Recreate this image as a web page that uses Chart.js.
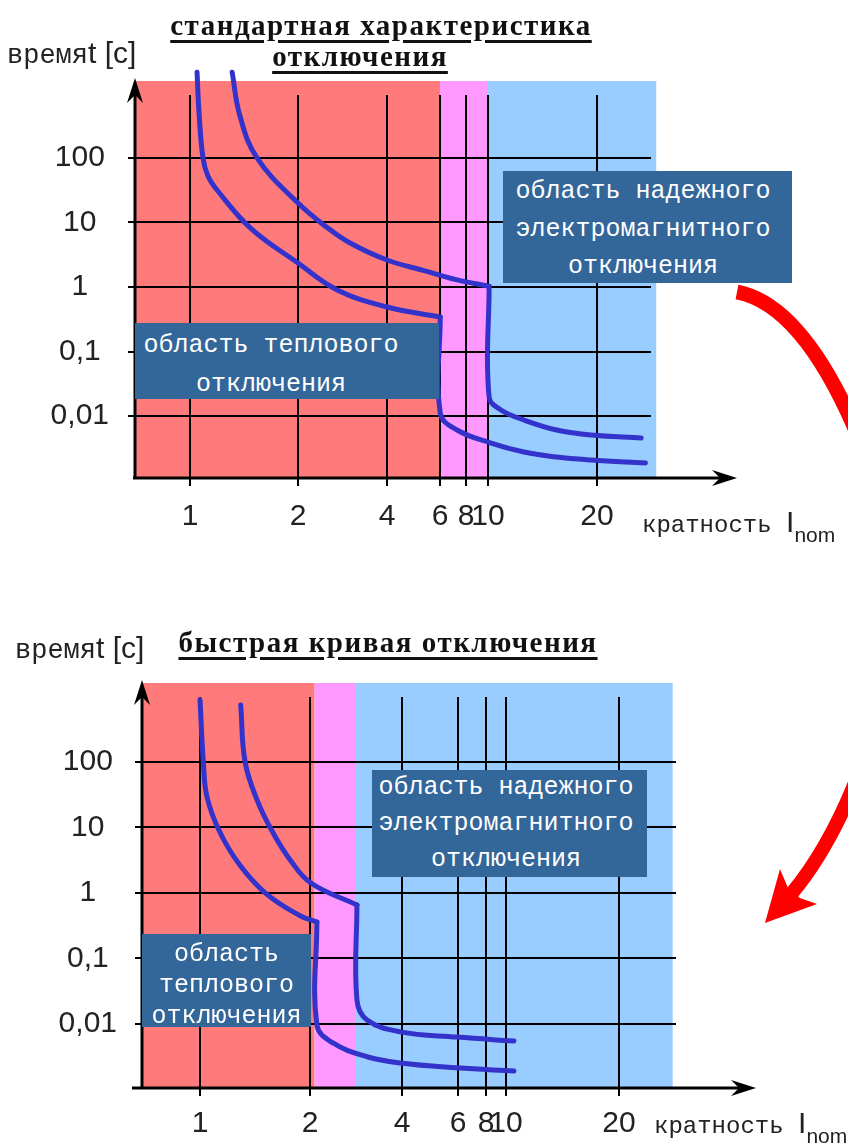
<!DOCTYPE html>
<html lang="ru">
<head>
<meta charset="UTF-8">
<title>Характеристики отключения</title>
<script src="https://cdn.jsdelivr.net/npm/chart.js@4.4.1/dist/chart.umd.min.js"></script>
<style>
  body { margin: 0; background: #fff; }
  #page { position: relative; width: 848px; height: 1148px; overflow: hidden; background: #fff; }
  canvas { position: absolute; left: 0; }
  #c1 { top: 0; }
  #c2 { top: 580px; }
  .title {
    position: absolute; transform: translateX(-50%);
    font-family: 'Liberation Serif', serif; font-weight: bold; font-size: 29px;
    letter-spacing: 1.5px; line-height: 30px; white-space: nowrap; color: #111;
    text-decoration: underline; text-decoration-thickness: 3px; text-underline-offset: 5px;
  }
  .lab { position: absolute; white-space: nowrap; color: #222; line-height: 34px; }
  .mono { font-family: 'Liberation Mono', monospace; font-size: 27px; }
  .mono2 { font-family: 'Liberation Mono', monospace; font-size: 24px; }
  .sans { font-family: 'Liberation Sans', sans-serif; font-size: 30px; }
  .sub { font-family: 'Liberation Sans', sans-serif; font-size: 21px; position: relative; top: 10px; }
  .box {
    position: absolute; box-sizing: border-box; background: #336699; color: #fff;
    font-family: 'Liberation Mono', monospace; font-size: 25px; text-align: center; white-space: nowrap;
  }
</style>
</head>
<body>
<div id="page">
  <canvas id="c1" width="848" height="580"></canvas>
  <canvas id="c2" width="848" height="568"></canvas>

  <div class="title" style="left:381px; top:10px;">стандартная характеристика</div>
  <div class="title" style="left:360px; top:41px;">отключения</div>
  <div class="lab" style="left:7px; top:36px;"><span class="mono">время</span><span class="sans">t [c]</span></div>
  <div class="lab" style="left:642px; top:505px;"><span class="mono2">кратность </span><span class="sans">I</span><span class="sub">nom</span></div>
  <div class="box" style="left:135px; top:323px; width:304px; height:76px; padding:3px 32px 0 0; line-height:39px;">область теплового<br>отключения</div>
  <div class="box" style="left:503px; top:171px; width:289px; height:112px; padding:2px 9px 0 0; line-height:37.5px;">область надежного<br>электромагнитного<br>отключения</div>

  <div class="title" style="left:388px; top:627px;">быстрая кривая отключения</div>
  <div class="lab" style="left:15px; top:631px;"><span class="mono">время</span><span class="sans">t [c]</span></div>
  <div class="lab" style="left:654px; top:1106px;"><span class="mono2">кратность </span><span class="sans">I</span><span class="sub">nom</span></div>
  <div class="box" style="left:142px; top:934px; width:169px; height:93px; padding-top:5px; line-height:31px;">область<br>теплового<br>отключения</div>
  <div class="box" style="left:372px; top:770px; width:275px; height:107px; padding:0 7px 0 0; line-height:36px;">область надежного<br>электромагнитного<br>отключения</div>
</div>

<script>
// шкалы
const xTicks = [1, 2, 4, 6, 8, 10, 20];
const yTicks = [0.01, 0.1, 1, 10, 100];
const yTickLabels = ['0,01', '0,1', '1', '10', '100'];

// стандартная характеристика: границы зон (тепловая | переходная | электромагнитная)
const stdZones = [6, 10, 25.5];
const stdLowX  = [1.065, 1.083, 1.12, 1.167, 1.25, 1.56, 2, 2.88, 4, 6.02, 6.02, 7.31, 10.28, 13.3, 16.3, 19.45, 24.5];
const stdLowY  = [2140, 516, 100, 52, 31.9, 8.2, 2.35, 0.9, 0.49, 0.343, 0.0111, 0.00607, 0.00381, 0.00277, 0.00231, 0.00208, 0.00187];
const stdHighX = [1.39, 1.46, 1.62, 2, 2.67, 3.17, 4, 5.4, 7.31, 10.1, 10.1, 11.19, 13.3, 16.3, 19.45, 24.1];
const stdHighY = [2140, 464, 100, 20, 8.2, 4.8, 2.62, 1.8, 1.29, 1.03, 0.0197, 0.0124, 0.00867, 0.00607, 0.00507, 0.00456];

// быстрая кривая
const fastZones = [2.1, 3, 24.7];
const fastLowX  = [1.0, 1.03, 1.064, 1.18, 1.36, 1.6, 1.91, 2.15, 2.15, 2.5, 3.24, 3.96, 5.96, 10.7];
const fastLowY  = [891, 100, 29, 8.53, 2.7, 0.98, 0.45, 0.36, 0.00966, 0.00513, 0.00316, 0.00254, 0.00214, 0.00191];
const fastHighX = [1.37, 1.41, 1.52, 1.66, 1.82, 2.02, 3.02, 3.02, 3.24, 3.96, 5.96, 10.7];
const fastHighY = [741, 100, 26, 8.53, 3.19, 1.42, 0.656, 0.0232, 0.0115, 0.00759, 0.00631, 0.0055];

const zoneColors = ['#ff7b7b', '#ff99ff', '#99ccff'];
const curveColor = '#3333cc';

// неравномерная ось кратности: значение -> доля ширины области графика
const knots = {
  c1: [[0.6, 0], [1, 0.0914], [2, 0.2708], [4, 0.4186], [6, 0.5066], [8, 0.5498], [10, 0.5864], [20, 0.7674], [33, 1]],
  c2: [[0.6, 0], [1, 0.0945], [2, 0.2736], [4, 0.4235], [6, 0.5147], [8, 0.5603], [10, 0.5928], [20, 0.7769], [32, 1]]
};

function warp(k, v) {
  if (v <= k[0][0]) return k[0][1];
  for (let i = 1; i < k.length; i++) {
    if (v <= k[i][0]) {
      const [v0, f0] = k[i - 1], [v1, f1] = k[i];
      return f0 + (v - v0) / (v1 - v0) * (f1 - f0);
    }
  }
  const [va, fa] = k[k.length - 2], [vb, fb] = k[k.length - 1];
  return fb + (v - vb) / (vb - va) * (fb - fa);
}

class WarpScale extends Chart.LinearScale {
  getPixelForValue(v) {
    if (v === null || v === undefined) return NaN;
    return this.getPixelForDecimal(warp(knots[this.chart.canvas.id], v));
  }
}
WarpScale.id = 'warp';
WarpScale.defaults = Chart.LinearScale.defaults;
Chart.register(WarpScale);

// кривая делится в точке скачка: тепловая часть и электромагнитная часть
function splitCurve(xs, ys) {
  const p = xs.map((x, i) => ({ x: x, y: ys[i] }));
  const c = xs.findIndex((x, i) => i < xs.length - 1 && x === xs[i + 1]);
  return [p.slice(0, c + 1), p.slice(c)];
}

function line(ctx, x1, y1, x2, y2) {
  ctx.beginPath(); ctx.moveTo(x1, y1); ctx.lineTo(x2, y2); ctx.stroke();
}

function framePlugin(f) {
  return {
    id: 'frame',
    beforeDatasetsDraw(chart) {
      const { ctx, chartArea: a, scales: { x, y } } = chart;
      ctx.save();
      let left = a.left;
      f.zones.forEach((b, i) => {
        const right = x.getPixelForValue(b);
        ctx.fillStyle = zoneColors[i];
        ctx.fillRect(left, a.top + 3, right - left, a.bottom - a.top - 3);
        left = right;
      });
      ctx.strokeStyle = '#000';
      ctx.lineWidth = 2;
      xTicks.forEach(v => {
        const px = Math.round(x.getPixelForValue(v));
        line(ctx, px, a.top + 17, px, a.bottom + 8);
      });
      yTicks.forEach(v => {
        const py = Math.round(y.getPixelForValue(v));
        line(ctx, a.left - 7, py, a.left + f.hLen, py);
      });
      // оси со стрелками
      ctx.lineWidth = 3;
      line(ctx, a.left, a.bottom, a.left, a.top + 14);
      line(ctx, a.left - f.xStart, a.bottom, a.right - 14, a.bottom);
      ctx.fillStyle = '#000';
      ctx.beginPath();
      ctx.moveTo(a.left, a.top); ctx.lineTo(a.left - 8, a.top + 25);
      ctx.lineTo(a.left, a.top + 17); ctx.lineTo(a.left + 8, a.top + 25); ctx.closePath(); ctx.fill();
      ctx.beginPath();
      ctx.moveTo(a.right, a.bottom); ctx.lineTo(a.right - 25, a.bottom - 8);
      ctx.lineTo(a.right - 17, a.bottom); ctx.lineTo(a.right - 25, a.bottom + 8); ctx.closePath(); ctx.fill();
      ctx.restore();
    },
    afterDraw(chart) {
      f.arrow(chart.ctx);
    }
  };
}

function arrowTop(ctx) {
  ctx.save();
  ctx.strokeStyle = '#ff0000';
  ctx.lineWidth = 15;
  ctx.beginPath();
  ctx.moveTo(737, 292);
  ctx.quadraticCurveTo(805, 305, 862, 445);
  ctx.stroke();
  ctx.restore();
}

function arrowBottom(ctx) {
  const o = 580;
  ctx.save();
  ctx.strokeStyle = '#ff0000';
  ctx.fillStyle = '#ff0000';
  ctx.lineWidth = 14;
  ctx.beginPath();
  ctx.moveTo(862, 765 - o);
  ctx.quadraticCurveTo(832, 845 - o, 792, 893 - o);
  ctx.stroke();
  ctx.beginPath();
  ctx.moveTo(765, 923 - o);
  ctx.lineTo(780, 869 - o);
  ctx.lineTo(788, 888 - o);
  ctx.lineTo(800, 898 - o);
  ctx.lineTo(817, 904 - o);
  ctx.closePath();
  ctx.fill();
  ctx.restore();
}

function makeChart(id, f) {
  const tickFont = { family: 'Liberation Sans', size: 30 };
  const k = knots[id];
  const datasets = [...splitCurve(f.lowX, f.lowY), ...splitCurve(f.highX, f.highY)]
    .map(d => ({ data: d }));
  return new Chart(document.getElementById(id), {
    type: 'line',
    data: { datasets: datasets },
    options: {
      responsive: false,
      animation: false,
      layout: { padding: f.pad },
      plugins: { legend: { display: false }, tooltip: { enabled: false } },
      elements: {
        point: { radius: 0 },
        line: {
          borderColor: curveColor, borderWidth: 5, tension: 0.4,
          borderCapStyle: 'round', borderJoinStyle: 'round', capBezierPoints: false
        }
      },
      datasets: { line: { clip: false } },
      scales: {
        x: {
          type: 'warp', min: k[0][0], max: k[k.length - 1][0], bounds: 'data',
          grid: { display: false, drawTicks: false }, border: { display: false },
          afterBuildTicks: s => { s.ticks = xTicks.map(v => ({ value: v })); },
          afterFit: s => { s.height = f.xH; },
          ticks: {
            autoSkip: false, maxRotation: 0, minRotation: 0, padding: f.xPad,
            font: tickFont, color: '#222', callback: v => String(v)
          }
        },
        y: {
          type: 'logarithmic', min: f.yMin, max: f.yMax,
          grid: { display: false, drawTicks: false }, border: { display: false },
          afterBuildTicks: s => { s.ticks = yTicks.map(v => ({ value: v })); },
          afterFit: s => { s.width = f.yW; },
          ticks: {
            crossAlign: 'center', padding: f.yPad, font: tickFont, color: '#222',
            callback: v => yTickLabels[yTicks.indexOf(v)]
          }
        }
      }
    },
    plugins: [framePlugin(f)]
  });
}

makeChart('c1', {
  lowX: stdLowX, lowY: stdLowY, highX: stdHighX, highY: stdHighY, zones: stdZones,
  pad: { left: 0, right: 111, top: 78, bottom: 0 },
  xH: 102, yW: 135, xPad: 21, yPad: 26,
  yMin: 0.001094, yMax: 1738,
  hLen: 516, xStart: 2, arrow: arrowTop
});

makeChart('c2', {
  lowX: fastLowX, lowY: fastLowY, highX: fastHighX, highY: fastHighY, zones: fastZones,
  pad: { left: 0, right: 92, top: 100, bottom: 0 },
  xH: 60, yW: 142, xPad: 18, yPad: 25,
  yMin: 0.001054, yMax: 1786,
  hLen: 534, xStart: 10, arrow: arrowBottom
});
</script>
</body>
</html>
